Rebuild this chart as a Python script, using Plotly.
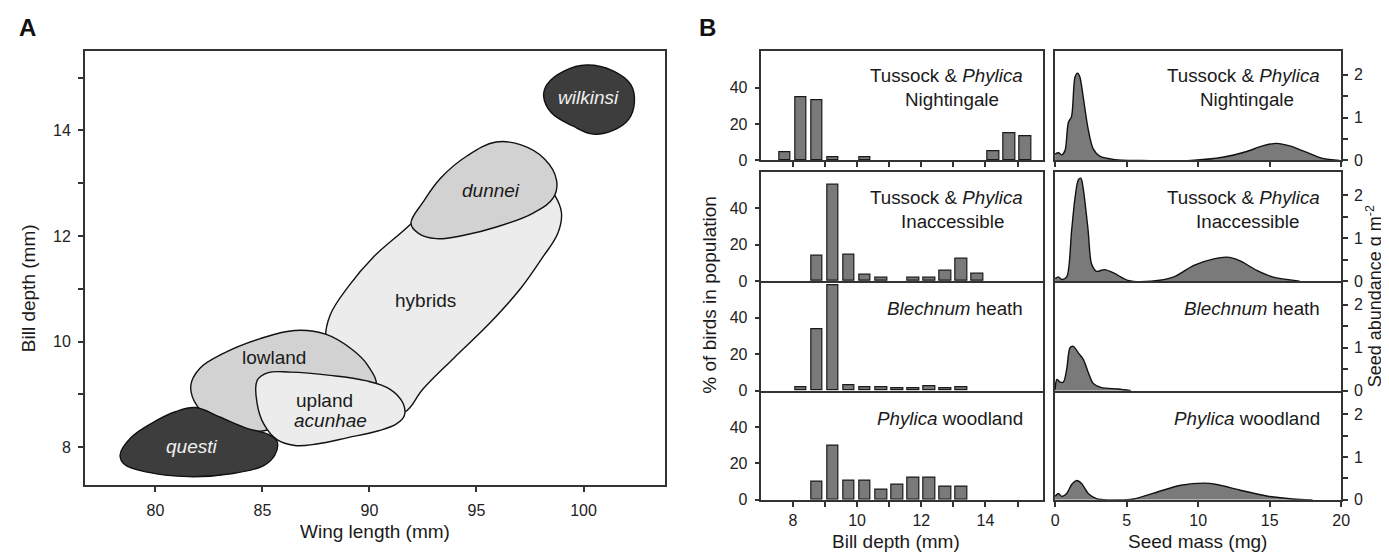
import plotly.graph_objects as go

W, H = 1389, 552

# ---------------- Panel A data: outlines (wing length, bill depth) ----------------
hybrids_wing = [95.6, 97.67, 98.66, 98.97, 98.80, 98.08, 97.05, 95.6, 93.95, 92.5, 91.67, 90.85, 89.4, 88.16, 87.95, 88.16, 88.99, 90.23, 91.88, 93.53, 95.6]
hybrids_bill = [13.36, 13.23, 12.77, 12.44, 12.05, 11.59, 11.0, 10.34, 9.69, 9.10, 8.67, 8.64, 9.1, 9.75, 10.05, 10.5, 11.03, 11.62, 12.21, 12.9, 13.36]

dunnei_wing = [95.91, 97.05, 98.18, 98.74, 98.6, 97.67, 96.01, 94.36, 93.12, 92.29, 91.94, 92.5, 93.33, 94.57, 95.91]
dunnei_bill = [13.78, 13.73, 13.46, 13.06, 12.73, 12.44, 12.18, 12.01, 11.95, 12.05, 12.24, 12.64, 13.10, 13.52, 13.78]

lowland_wing = [88.99, 86.1, 84.86, 83.62, 82.58, 81.96, 81.65, 82.07, 83.2, 84.86, 86.51, 87.95, 89.19, 89.92, 90.3, 88.99]
lowland_bill = [8.77, 8.44, 8.30, 8.41, 8.57, 8.77, 9.16, 9.49, 9.78, 10.05, 10.21, 10.14, 9.85, 9.55, 9.14, 8.77]

questi_wing = [81.55, 79.69, 78.56, 78.35, 78.86, 79.9, 80.93, 81.86, 83.0, 84.24, 85.27, 85.68, 85.58, 85.06, 83.62, 81.55]
questi_bill = [7.44, 7.52, 7.67, 7.85, 8.18, 8.47, 8.67, 8.75, 8.57, 8.36, 8.24, 8.11, 7.85, 7.65, 7.50, 7.44]

upland_wing = [88.99, 87.54, 86.51, 85.68, 85.06, 84.75, 84.75, 85.27, 86.30, 88.16, 89.81, 90.95, 91.57, 91.63, 91.26, 90.43, 88.99]
upland_bill = [8.18, 8.06, 8.03, 8.14, 8.44, 8.83, 9.26, 9.41, 9.42, 9.36, 9.26, 9.10, 8.83, 8.60, 8.44, 8.31, 8.18]

wilkinsi_wing = [100.14, 101.38, 102.21, 102.38, 102.11, 101.38, 100.45, 99.52, 98.49, 98.14, 98.29, 99.11, 100.14]
wilkinsi_bill = [15.24, 15.13, 14.87, 14.54, 14.21, 14.0, 13.93, 14.08, 14.34, 14.64, 14.87, 15.13, 15.24]

# ---------------- Panel B data ----------------
bill_bins = [7.75, 8.25, 8.75, 9.25, 9.75, 10.25, 10.75, 11.25, 11.75, 12.25, 12.75, 13.25, 13.75, 14.25, 14.75, 15.25]
pct_nightingale = [4.5, 35, 33, 1.6, 0, 1.6, 0, 0, 0, 0, 0, 0, 0, 5.2, 14.8, 13.2]
pct_inaccessible = [0, 0, 14, 53, 14.6, 3.6, 1.6, 0, 1.6, 1.6, 5.9, 12.1, 4.3, 0, 0, 0]
pct_blechnum = [0, 2, 33.7, 58, 3.1, 2, 2, 1.4, 1.4, 2.5, 1.4, 2, 0, 0, 0, 0]
pct_woodland = [0, 0, 9.9, 29.7, 10.8, 10.8, 5.4, 8.1, 12.3, 12.3, 7.2, 7.2, 0, 0, 0, 0]

seed_nightingale_x = [0, 0.23, 0.46, 0.69, 0.92, 1.15, 1.39, 1.57, 1.73, 1.96, 2.31, 2.66, 3.12, 4.16, 6, 9.5, 11.8, 13.4, 14.5, 15.5, 16.4, 17.6, 18.7, 19.9]
seed_nightingale_y = [0.15, 0.18, 0.13, 0.23, 0.88, 1.03, 1.95, 2.04, 1.95, 1.49, 0.73, 0.27, 0.10, 0.02, 0.0, 0.0, 0.08, 0.21, 0.34, 0.40, 0.34, 0.19, 0.05, 0.0]

seed_inaccessible_x = [0, 0.23, 0.46, 0.81, 1.15, 1.39, 1.62, 1.8, 1.96, 2.31, 2.54, 2.89, 3.46, 4.16, 5.08, 6.7, 8.3, 9.7, 11.1, 12.0, 12.9, 14.1, 15.2, 17.1]
seed_inaccessible_y = [0.06, 0.1, 0.04, 0.1, 1.17, 1.94, 2.36, 2.4, 2.17, 1.17, 0.41, 0.23, 0.27, 0.18, 0.02, 0.0, 0.1, 0.37, 0.52, 0.56, 0.48, 0.25, 0.1, 0.0]

seed_blechnum_x = [0, 0.12, 0.35, 0.58, 0.81, 1.04, 1.27, 1.62, 1.97, 2.31, 2.66, 3.24, 4.39, 5.3]
seed_blechnum_y = [0.02, 0.26, 0.2, 0.2, 0.5, 1.0, 1.03, 0.88, 0.73, 0.43, 0.17, 0.07, 0.04, 0.0]

seed_woodland_x = [0, 0.23, 0.46, 0.81, 1.16, 1.5, 1.85, 2.31, 2.89, 3.7, 5.5, 7.2, 8.8, 10.4, 11.3, 12.9, 14.8, 16.6, 18]
seed_woodland_y = [0.08, 0.15, 0.08, 0.15, 0.36, 0.45, 0.38, 0.15, 0.03, 0.0, 0.02, 0.19, 0.34, 0.39, 0.36, 0.23, 0.09, 0.02, 0.0]

FONT = "Liberation Sans, Arial, Helvetica, sans-serif"
DARK = "#3d3d3d"
MID = "#d2d2d2"
LIGHT = "#ececec"
BAR = "#7a7a7a"
AX = "#333333"


def px(x):
    return x / W


def py(y):
    return 1 - y / H


fig = go.Figure()

# Panel A blobs
blobs = [
    (hybrids_wing, hybrids_bill, LIGHT),
    (dunnei_wing, dunnei_bill, MID),
    (lowland_wing, lowland_bill, MID),
    (questi_wing, questi_bill, DARK),
    (upland_wing, upland_bill, LIGHT),
    (wilkinsi_wing, wilkinsi_bill, DARK),
]
for xs, ys, col in blobs:
    fig.add_trace(go.Scatter(x=xs, y=ys, mode="lines", fill="toself", fillcolor=col,
                             line=dict(color="#111", width=1.4, shape="spline", smoothing=1.1),
                             xaxis="x", yaxis="y", hoverinfo="skip", showlegend=False))

# Panel B histograms
hists = [pct_nightingale, pct_inaccessible, pct_blechnum, pct_woodland]
for i, vals in enumerate(hists):
    xs = [b for b, v in zip(bill_bins, vals) if v > 0]
    ys = [v for v in vals if v > 0]
    fig.add_trace(go.Bar(x=xs, y=ys, width=0.36, marker=dict(color=BAR, line=dict(color="#1a1a1a", width=1.2)),
                         xaxis=f"x{2 + i}", yaxis=f"y{2 + i}", showlegend=False, hoverinfo="skip"))

dens = [(seed_nightingale_x, seed_nightingale_y), (seed_inaccessible_x, seed_inaccessible_y),
        (seed_blechnum_x, seed_blechnum_y), (seed_woodland_x, seed_woodland_y)]
for i, (xs, ys) in enumerate(dens):
    fig.add_trace(go.Scatter(x=xs, y=ys, mode="lines", fill="tozeroy", fillcolor=BAR,
                             line=dict(color="#111", width=1.4, shape="spline", smoothing=0.8),
                             xaxis=f"x{6 + i}", yaxis=f"y{6 + i}", showlegend=False, hoverinfo="skip"))

base = dict(showline=True, linecolor=AX, linewidth=1.5, mirror=True, showgrid=False, zeroline=False,
            ticks="outside", ticklen=5, tickwidth=1.5, tickcolor=AX,
            tickfont=dict(family=FONT, size=16, color="#222"), fixedrange=True)


def minor(vals):
    return dict(tickvals=vals, ticks="outside", ticklen=5, tickwidth=1.5, tickcolor=AX, showgrid=False)


layout = dict(
    width=W, height=H, margin=dict(l=0, r=0, t=0, b=0),
    paper_bgcolor="white", plot_bgcolor="white", bargap=0, showlegend=False,
    font=dict(family=FONT, color="#222"),
)

# Panel A axes
layout["xaxis"] = dict(base, domain=[px(73.5), px(659)], range=[76.7, 103.8], anchor="y",
                       tickvals=[80, 85, 90, 95, 100], ticklabelstandoff=5)
layout["yaxis"] = dict(base, domain=[py(485), py(44)], range=[7.28, 15.5], anchor="x",
                       tickvals=[8, 10, 12, 14], minor=minor([9, 11, 13, 15]), ticklabelstandoff=4)

panels_y = [(44, 155), (166.5, 277.7), (277.7, 389), (389, 500)]
for i, (t, b) in enumerate(panels_y):
    hx = f"xaxis{2 + i}"
    hy = f"yaxis{2 + i}"
    dx = f"xaxis{6 + i}"
    dy = f"yaxis{6 + i}"
    mirror_x = i < 2
    xopts = dict(base, domain=[px(756.5), px(1041)], range=[7.02, 15.8], anchor=f"y{2 + i}",
                 tickvals=[8, 10, 12, 14], minor=minor([9, 11, 13, 15]),
                 ticklabelstandoff=0, mirror=mirror_x)
    dopts = dict(base, domain=[px(1052.7), px(1341.7)], range=[-0.02, 20.0], anchor=f"y{6 + i}",
                 tickvals=[0, 5, 10, 15, 20], ticklabelstandoff=0, mirror=mirror_x)
    if i == 0:
        xopts["showticklabels"] = False
        dopts["showticklabels"] = False
    elif i in (1, 2):
        xopts["ticks"] = ""
        xopts["minor"] = dict(ticks="")
        xopts["showticklabels"] = False
        dopts["ticks"] = ""
        dopts["showticklabels"] = False
    layout[hx] = xopts
    layout[dx] = dopts
    layout[hy] = dict(base, domain=[py(b), py(t)], range=[0, 60], anchor=f"x{2 + i}",
                      tickvals=[0, 20, 40], ticklabelstandoff=4)
    layout[dy] = dict(base, domain=[py(b), py(t)], range=[0, 2.55], anchor=f"x{6 + i}", side="right",
                      tickvals=[0, 1, 2], minor=minor([0.5, 1.5]), ticklabelstandoff=3)

fig.update_layout(**layout)

ann = []


def add_text(text, x, y, size=18.8, xanchor="center", color="#1a1a1a", angle=0, xref="paper", yref="paper"):
    if xref == "paper":
        x = px(x)
    if yref == "paper":
        y = py(y)
    ann.append(dict(text=text, x=x, y=y, xref=xref, yref=yref, xanchor=xanchor, yanchor="middle",
                    showarrow=False, textangle=angle,
                    font=dict(family=FONT, size=size, color=color)))


# panel letters
add_text("<b>A</b>", 16, 20, size=24, color="#111")
add_text("<b>B</b>", 702, 20, size=24, color="#111")

# panel A labels
add_text("<i>wilkinsi</i>", 100.25, 14.62, size=19, color="#f0f0f0", xref="x", yref="y")
add_text("<i>dunnei</i>", 95.7, 12.87, size=19, xref="x", yref="y")
add_text("hybrids", 92.6, 10.77, size=19, xref="x", yref="y")
add_text("lowland", 85.54, 9.69, size=19, xref="x", yref="y")
add_text("upland", 87.9, 8.88, size=19, xref="x", yref="y")
add_text("<i>acunhae</i>", 88.16, 8.5, size=19, xref="x", yref="y")
add_text("<i>questi</i>", 81.7, 8.01, size=19, color="#f0f0f0", xref="x", yref="y")

# axis titles
add_text("Wing length (mm)", 366, 532, size=19)
add_text("Bill depth (mm)", 17, 285, size=19, angle=-90)
add_text("Bill depth (mm)", 892, 542, size=19)
add_text("Seed mass (mg)", 1197, 542, size=19)
add_text("% of birds in population", 704, 291, size=19, angle=-90)
add_text("Seed abundance g m<sup>-2</sup>", 1375, 293, size=18, angle=-90)

# panel B habitat labels
for right, center in [(1023, 949), (1322, 1247)]:
    add_text("Tussock & <i>Phylica</i>", right, 69, xanchor="right")
    add_text("Nightingale", center, 93)
    add_text("Tussock & <i>Phylica</i>", right, 193, xanchor="right")
    add_text("Inaccessible", center, 217)
    add_text("<i>Blechnum</i> heath", right, 305, xanchor="right")
    add_text("<i>Phylica</i> woodland", right, 417, xanchor="right")

fig.update_layout(annotations=ann)
fig.write_html("out.html")
